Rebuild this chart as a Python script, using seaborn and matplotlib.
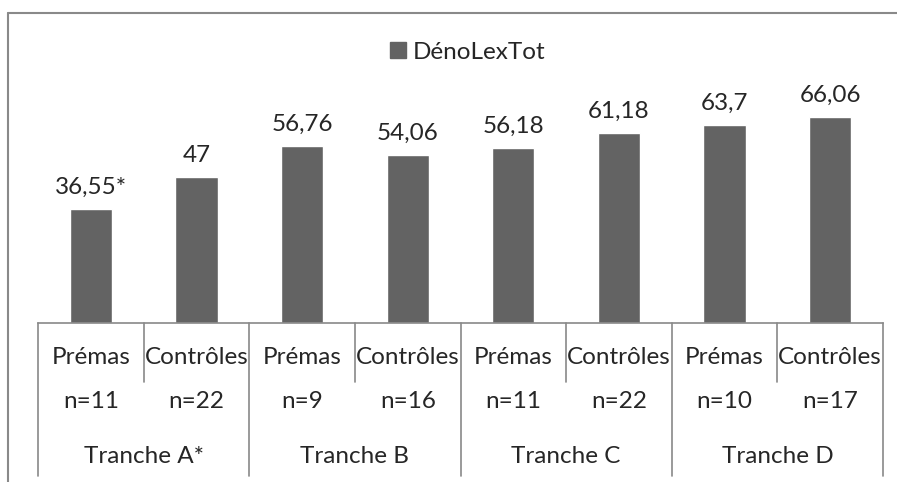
import pandas as pd
import matplotlib.pyplot as plt
import matplotlib.transforms as mtransforms
from matplotlib.lines import Line2D
import seaborn as sns

# données
tranches = ["Tranche A*", "Tranche B", "Tranche C", "Tranche D"]
groupes = ["Prémas", "Contrôles", "Prémas", "Contrôles", "Prémas", "Contrôles", "Prémas", "Contrôles"]
effectifs = ["n=11", "n=22", "n=9", "n=16", "n=11", "n=22", "n=10", "n=17"]
deno_lex_tot = [36.55, 47, 56.76, 54.06, 56.18, 61.18, 63.7, 66.06]
etiquettes = ["36,55*", "47", "56,76", "54,06", "56,18", "61,18", "63,7", "66,06"]

df = pd.DataFrame({
    "cle": [f"{i}" for i in range(len(groupes))],
    "DénoLexTot": deno_lex_tot,
})

sns.set_style("white")
plt.rcParams["font.family"] = ["Lato", "DejaVu Sans"]

couleur_barre = "#636363"
couleur_trait = "#898989"
taille = 17.5

fig = plt.figure(figsize=(8.97, 4.82), dpi=100)
ax = fig.add_axes([38 / 897, 1 - 323 / 482, 845 / 897, 249 / 482])

sns.barplot(data=df, x="cle", y="DénoLexTot", color=couleur_barre, width=0.4,
            saturation=1, ax=ax)
ax.set_xlim(-0.5, len(groupes) - 0.5)
ax.set_ylim(0, 80)
ax.bar_label(ax.containers[0], labels=etiquettes, padding=8, fontsize=taille)

for s in ["top", "right", "left"]:
    ax.spines[s].set_visible(False)
ax.spines["bottom"].set_color(couleur_trait)
ax.spines["bottom"].set_linewidth(1.2)
ax.set_xticks([])
ax.set_yticks([])
ax.set_xlabel("")
ax.set_ylabel("")

# étiquettes hiérarchiques
trans = mtransforms.blended_transform_factory(ax.transData, ax.transAxes)
for i, (g, n) in enumerate(zip(groupes, effectifs)):
    ax.text(i, -0.137, g, transform=trans, ha="center", va="center", fontsize=taille)
    ax.text(i, -0.317, n, transform=trans, ha="center", va="center", fontsize=taille)
for j, t in enumerate(tranches):
    ax.text(2 * j + 0.5, -0.538, t, transform=trans, ha="center", va="center", fontsize=taille)

for k in range(len(groupes) + 1):
    xb = k - 0.5
    bas = -0.614 if k % 2 == 0 else -0.237
    ax.add_line(Line2D([xb, xb], [0, bas], transform=trans, color=couleur_trait,
                       lw=1.2, clip_on=False))

# légende
poignee = Line2D([], [], marker="s", linestyle="none", markersize=11,
                 color=couleur_barre, label="DénoLexTot")
fig.legend(handles=[poignee], loc="center", bbox_to_anchor=(0.518, 1 - 52 / 482),
           frameon=False, fontsize=taille, handletextpad=0.0, handlelength=1.2,
           borderpad=0)

# cadre du graphique
fig.add_artist(Line2D([8 / 897, 1], [1 - 13 / 482, 1 - 13 / 482],
                      transform=fig.transFigure, color=couleur_trait, lw=1.5))
fig.add_artist(Line2D([8 / 897, 8 / 897], [1 - 13 / 482, 0],
                      transform=fig.transFigure, color=couleur_trait, lw=1.5))

fig.savefig("out.png", dpi=100)
plt.close()
